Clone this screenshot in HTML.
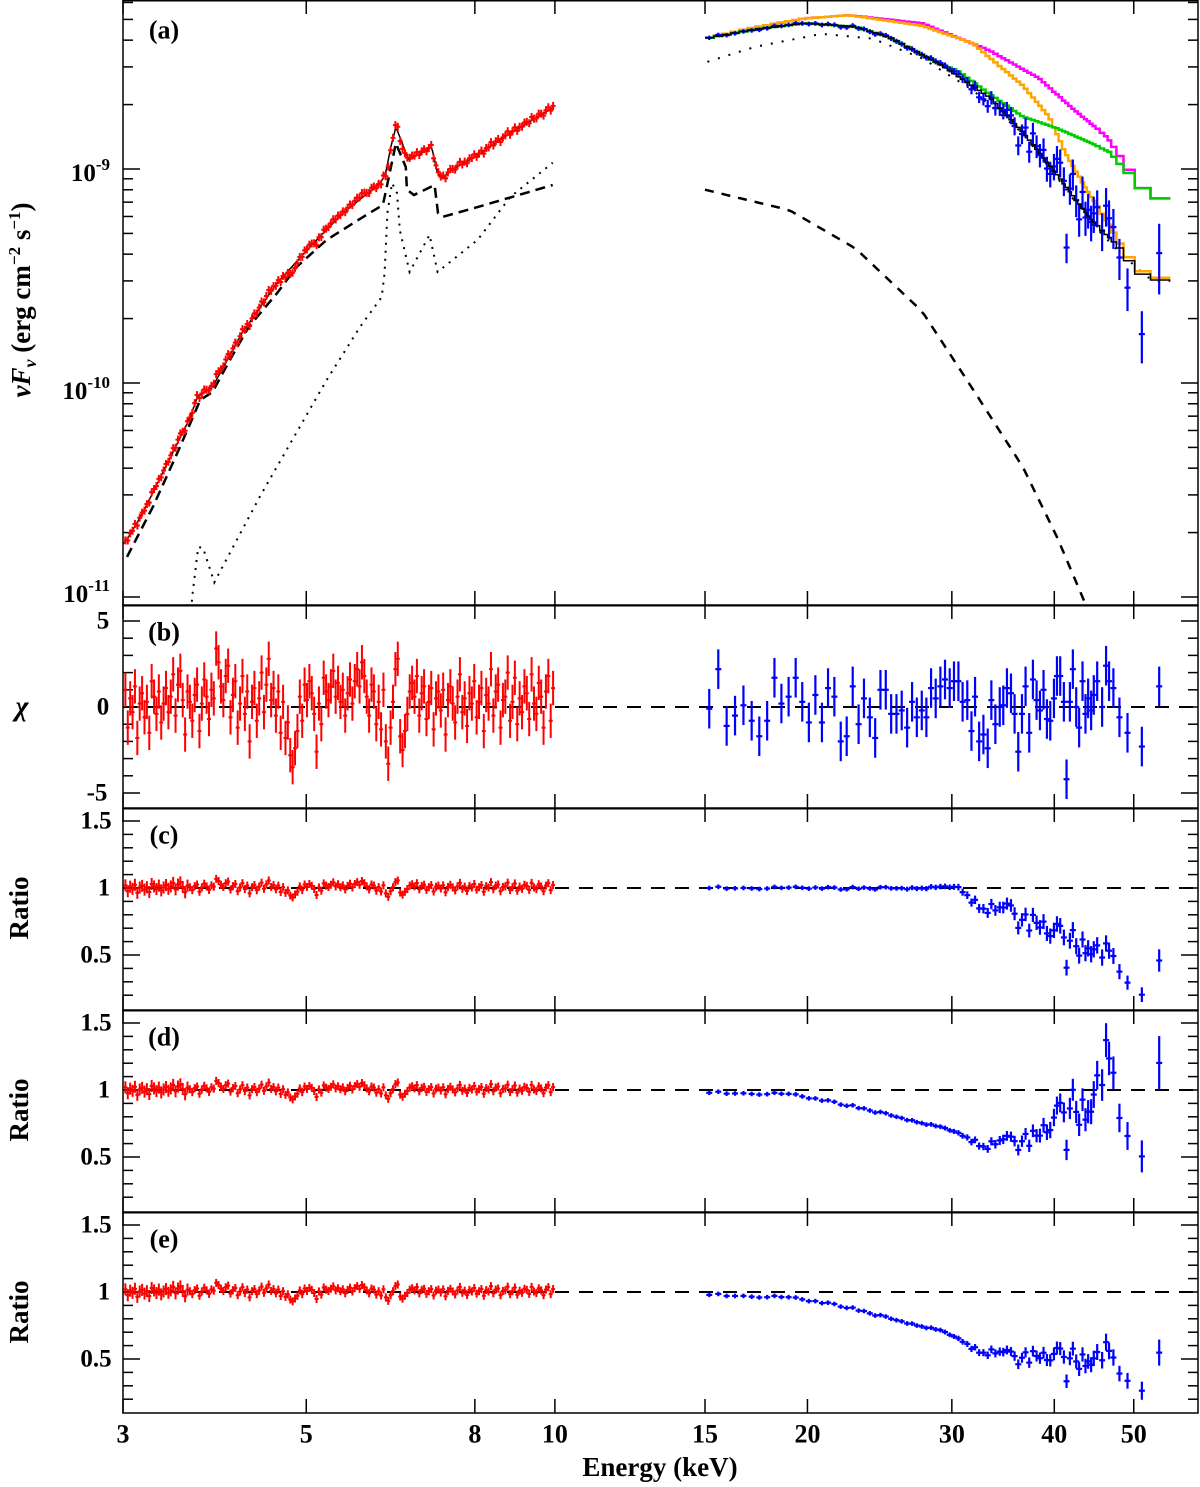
<!DOCTYPE html>
<html><head><meta charset="utf-8"><style>
html,body{margin:0;padding:0;background:#fff;}
svg{display:block;}
text{font-family:"Liberation Serif",serif;font-weight:bold;fill:#000;}
</style></head><body>
<svg id="chart" width="1200" height="1487" viewBox="0 0 1200 1487" xmlns="http://www.w3.org/2000/svg">
<defs><clipPath id="clipA"><rect x="123" y="1" width="1075" height="604"/></clipPath></defs>
<g id="layer"></g>
</svg>
<script>
// ---------- data ----------
const xTickValues=[3,5,8,10,15,20,30,40,50];
const xTickLabels=["3","5","8","10","15","20","30","40","50"];
const redModelE=[3.017,3.17,3.35,3.62,3.69,3.85,4.18,4.61,5.05,5.54,6.15,6.24,6.33,6.42,6.51,6.65,7.00,7.09,7.21,7.31,7.50,8.06,8.83,9.94];
const redModelF=[0.0179,0.0247,0.0380,0.0693,0.0861,0.0958,0.171,0.293,0.432,0.623,0.861,0.958,1.27,1.57,1.37,1.10,1.23,1.27,0.958,0.908,0.99,1.16,1.47,1.93];
const contLeftE=[3.034,3.26,3.49,3.62,3.72,3.85,4.04,4.26,4.61,4.87,5.29,5.86,6.19,6.24,6.42,6.60,6.62,6.75,7.15,7.22,7.31,8.06,9.94];
const contLeftF=[0.0154,0.0263,0.0471,0.065,0.0833,0.0908,0.128,0.183,0.263,0.349,0.466,0.597,0.679,0.781,1.32,1.02,0.80,0.756,0.842,0.623,0.597,0.664,0.842];
const refLeftE=[3.62,3.64,3.70,3.75,3.87,4.00,4.39,4.81,5.29,5.81,6.17,6.22,6.27,6.35,6.44,6.49,6.67,7.05,7.21,8.06,8.83,9.94];
const refLeftF=[0.008,0.0102,0.0171,0.0170,0.0117,0.0149,0.0293,0.0542,0.103,0.183,0.252,0.327,0.623,0.86,0.773,0.519,0.330,0.492,0.330,0.466,0.740,1.07];
const blackRightE=[15,17.3,19.9,22.9,25.2,29.0,33.3,36.6,40.3,44.2,48.1,49.8,52.6,55.4];
const blackRightF=[4.07,4.50,4.80,4.62,4.12,3.09,2.17,1.49,0.94,0.589,0.425,0.343,0.303,0.303];
const orangeE=[15,17.3,19.9,22.5,27.6,31.8,36.6,39.4,41.4,44.2,46.7,48.4,49.8,52.6,55.4];
const orangeF=[4.07,4.60,5.06,5.23,4.67,3.87,2.46,1.76,1.16,0.757,0.546,0.425,0.356,0.31,0.31];
const magentaE=[15,17.3,19.9,22.5,27.6,33.3,38.3,42.1,46.3,48.4,49.8,52.6,55.4];
const magentaF=[4.07,4.60,5.06,5.23,4.80,3.59,2.66,1.92,1.42,1.10,0.905,0.729,0.729];
const greenE=[15,17.3,19.9,22.9,25.2,29.0,30.4,33.3,36.6,40.3,44.2,46.7,48.4,49.8,52.6,55.4];
const greenF=[4.07,4.50,4.80,4.62,4.12,3.09,2.90,2.25,1.76,1.55,1.33,1.20,1.02,0.905,0.729,0.729];
const refRightE=[15.1,17.3,20.8,24.0,27.6,31.8,36.6,40.3,44.2,48.1,52.6,55.4];
const refRightF=[3.17,3.73,4.28,4.07,3.29,2.34,1.47,0.914,0.569,0.406,0.30,0.30];
const contRightE=[15,19.0,22.9,27.6,31.8,36.6,40.3,43.8,46];
const contRightF=[0.80,0.643,0.425,0.216,0.094,0.0406,0.0191,0.009,0.005];
const blueE=[15.18,15.57,15.94,16.32,16.71,17.1,17.47,17.86,18.23,18.59,18.97,19.35,19.71,20.08,20.45,20.83,21.19,21.57,21.96,22.33,22.71,23.09,23.44,23.83,24.19,24.55,24.92,25.3,25.68,26.06,26.46,26.83,27.19,27.57,27.93,28.3,28.67,29.05,29.43,29.82,30.18,30.56,30.92,31.33,31.7,32.02,32.39,32.78,33.18,33.52,33.9,34.32,34.66,35.02,35.42,35.78,36.15,36.53,36.9,37.28,37.67,38.06,38.42,38.81,39.18,39.55,39.96,40.3,40.67,41.09,41.4,41.79,42.14,42.54,42.89,43.3,43.66,43.99,44.36,44.69,45.12,45.75,46.26,46.65,47.22,48.03,49.13,51.15,53.7];
const blueChi=[-0.1,2.2,-1.1,-0.5,0.1,-0.8,-1.7,-0.8,1.7,0.2,0.6,1.7,0.3,-0.9,0.7,-0.9,1.1,0.6,-2.0,-1.7,1.2,-1.0,0.5,-0.6,-1.8,1.0,1.0,-0.4,-0.4,-0.2,-1.2,0.3,-0.6,-0.2,-0.6,1.1,0.5,1.2,1.6,1.1,1.5,1.5,0.3,0.4,-1.4,0.6,-2.0,-1.6,-2.4,0.4,-1.0,0.0,0.1,1.1,0.8,-0.4,-2.6,-0.4,1.2,-1.5,1.6,0.4,-0.2,1.0,-0.7,-0.8,0.5,1.8,1.8,0.3,-4.2,0.3,2.2,0.0,-1.2,1.5,-0.4,0.5,-0.2,0.7,1.5,0.0,2.4,1.5,1.1,-0.6,-1.5,-2.3,1.2];
const blueErrE=[15,25,30,35,40,45,50,54];
const blueRelErr=[0.004,0.006,0.01,0.04,0.07,0.1,0.12,0.2];
const trendCE=[15,29,30.5,32,34,35.5,37,39,41,43,45,47,49,51,54];
const trendCV=[1.0,1.0,0.99,0.9,0.86,0.84,0.75,0.7,0.62,0.55,0.5,0.45,0.36,0.3,0.38];
const trendDE=[15,18.9,22,25,29,32,33,34.7,36.5,38,40,42,44,45,46.3,47.3,48,49,51,54];
const trendDV=[0.98,0.97,0.90,0.82,0.72,0.62,0.6,0.63,0.63,0.64,0.77,0.85,0.8,0.95,1.1,1.0,0.85,0.8,0.74,1.0];
const trendEE=[15,18.9,22,25,29,32,34,36.5,38,40,42,44,46.3,48,49,51,54];
const trendEV=[0.98,0.96,0.90,0.81,0.71,0.58,0.56,0.52,0.51,0.52,0.49,0.46,0.5,0.42,0.41,0.39,0.45];
const redChi=[1,-1.2,0.5,-0.3,1.2,-1.8,0.2,0.8,-0.6,0.3,-1.5,1.5,0.6,-0.4,0.9,-0.9,0.2,1.1,-0.3,0.6,1.9,-0.5,1.3,2.1,0.4,-1.6,0.9,0.3,-0.8,0.7,
1.3,-1.4,0.2,1.6,0.6,-0.7,1.0,0.5,3.4,2.6,1.2,0.4,1.8,2.4,-0.6,0.7,1.5,-1.2,0.2,1.8,-0.4,0.9,-2.0,0.3,1.1,-0.8,0.5,2.0,-0.3,1.3,
2.8,0.4,1.1,-0.5,0.9,-1.5,0.3,-1.8,-0.9,-2.8,-3.5,-2.4,-1.4,0.6,-0.8,1.3,0.4,1.5,0.8,-0.4,-2.6,0.2,-1.0,1.7,0.9,0.4,1.2,2.1,0.6,1.4,
0.3,1.0,-0.5,0.8,1.6,0.2,1.5,2.2,1.2,2.6,1.8,0.6,-0.5,1.3,0.9,-1.0,0.3,-1.3,1.0,-2.0,-3.3,-1.2,0.3,2.2,2.8,-1.7,-2.5,-1.4,-0.4,0.9,
1.4,0.6,1.8,-0.5,0.8,1.2,-0.7,0.3,1.1,-1.3,0.5,0.9,-0.2,1.0,-1.6,0.4,1.2,0.2,-0.9,0.6,1.9,-0.3,0.5,-1.1,0.8,0.2,1.5,-0.6,0.3,1.1,
-1.4,0.7,0.2,2.2,-0.5,0.9,1.3,-1.2,0.4,0.6,2.0,-0.8,0.3,1.7,-1.0,0.5,-0.3,1.2,0.8,-0.7,1.9,0.2,-0.4,1.4,0.6,-1.2,0.9,1.8,-0.8,1.1];
const redEmin=3.02, redEmax=9.95;
const redE=redChi.map((c,i)=>redEmin*Math.pow(redEmax/redEmin,i/(redChi.length-1)));

// ---------- scales ----------
const L=123,R=1198;
function xS(E){return E<=12.5?123+826*Math.log10(E/3):705+820*Math.log10(E/15);}
function yA(f){return 169-214*Math.log10(f);}
function yB(c){return 707-17.2*c;}
const ratioBase=[888,1090,1292];
function yR(k,r){return ratioBase[k]-134*(r-1);}
function interp(xs,ys,x,logy){
  if(x<=xs[0])return ys[0]; if(x>=xs[xs.length-1])return ys[ys.length-1];
  for(let i=1;i<xs.length;i++){ if(x<=xs[i]){const t=(Math.log(x)-Math.log(xs[i-1]))/(Math.log(xs[i])-Math.log(xs[i-1]));
    return logy?Math.exp(Math.log(ys[i-1])+t*(Math.log(ys[i])-Math.log(ys[i-1]))):ys[i-1]+t*(ys[i]-ys[i-1]);}}
}
const NS='http://www.w3.org/2000/svg';
const layer=document.getElementById('layer');
function el(tag,attrs,parent){const e=document.createElementNS(NS,tag);for(const k in attrs)e.setAttribute(k,attrs[k]);(parent||layer).appendChild(e);return e;}
function txt(x,y,s,size,anchor,parent){const t=el('text',{x:x,y:y,'font-size':size,'text-anchor':anchor||'middle','dominant-baseline':'central'},parent);t.textContent=s;return t;}

// ---------- panels frames ----------
const panels=[[0,605],[605,808],[808,1010],[1010,1212],[1212,1413]];
const panelNames=['panel-a-spectrum','panel-b-chi','panel-c-ratio','panel-d-ratio','panel-e-ratio'];
panels.forEach((p,i)=>{
  const g=el('g',{});
  
  
  el('rect',{x:L,y:p[0]+0.75,width:R-L,height:p[1]-p[0]-0.75,fill:'none',stroke:'#000','stroke-width':1.5},g);
  xTickValues.forEach(v=>{const x=xS(v);
    el('line',{x1:x,x2:x,y1:p[0],y2:p[0]+14,stroke:'#000','stroke-width':1.5},g);
    el('line',{x1:x,x2:x,y1:p[1],y2:p[1]-14,stroke:'#000','stroke-width':1.5},g);});
});
const xl=el('g',{});


xTickValues.forEach((v,i)=>txt(xS(v),1434,xTickLabels[i],26,'middle',xl));
const xt=txt(660,1467,'Energy (keV)',27);



// panel a y ticks (both sides)
const ya=el('g',{});


[-2,-1,0].forEach(d=>{for(let m=1;m<10;m++){const y=yA(m*Math.pow(10,d));if(y<2||y>604)continue;
  const len=m===1?17:10;
  el('line',{x1:L,x2:L+len,y1:y,y2:y,stroke:'#000','stroke-width':1.5},ya);
  el('line',{x1:R-len,x2:R,y1:y,y2:y,stroke:'#000','stroke-width':1.5},ya);}});
[['10','-9',172],['10','-10',390],['10','-11',593]].forEach(a=>{
  const t=el('text',{x:110,y:a[2]+9,'font-size':25,'text-anchor':'end'},ya);
  const s1=el('tspan',{},t);s1.textContent=a[0];
  const s2=el('tspan',{'font-size':17,dy:-11},t);s2.textContent=a[1];
});
const yat=el('text',{transform:'translate(30,300) rotate(-90)','font-size':27,'text-anchor':'middle'});


yat.innerHTML='<tspan font-style="italic">νF</tspan><tspan font-style="italic" font-size="18" dy="6">ν</tspan><tspan dy="-6"> (erg cm</tspan><tspan font-size="17" dy="-10">−2</tspan><tspan dy="10"> s</tspan><tspan font-size="17" dy="-10">−1</tspan><tspan dy="10">)</tspan>';

// panel b y ticks
for(let c=-5;c<=5;c++){const y=yB(c);const len=(c%5===0)?17:10;el('line',{x1:L,x2:L+len,y1:y,y2:y,stroke:'#000','stroke-width':1.5});el('line',{x1:R-len,x2:R,y1:y,y2:y,stroke:'#000','stroke-width':1.5});}
txt(103,621,'5',25);txt(103,707,'0',25);txt(97,793,'-5',25);
const chiT=el('text',{x:22,y:707,'font-size':28,'text-anchor':'middle','dominant-baseline':'central','font-style':'italic'});
chiT.textContent='χ';


[0,1,2].forEach(k=>{
  for(let r=0.2;r<=1.6;r+=0.1){const rr=Math.round(r*10)/10;const y=yR(k,rr);const len=(Math.abs(rr*2-Math.round(rr*2))<1e-6)?17:10;
    el('line',{x1:L,x2:L+len,y1:y,y2:y,stroke:'#000','stroke-width':1.5});el('line',{x1:R-len,x2:R,y1:y,y2:y,stroke:'#000','stroke-width':1.5});}
  txt(96,yR(k,1.5),'1.5',25);txt(104,yR(k,1),'1',25);txt(96,yR(k,0.5),'0.5',25);
  const t=el('text',{transform:`translate(28,${ratioBase[k]+20}) rotate(-90)`,'font-size':27,'text-anchor':'middle'});
  t.textContent='Ratio';
  
  
});
[['(a)',30],['(b)',632],['(c)',835],['(d)',1037],['(e)',1239]].forEach(a=>{
  const t=txt(164,a[1],a[0],26);
  
  
});

[yB(0),yR(0,1),yR(1,1),yR(2,1)].forEach(y=>{
  const l=el('line',{x1:L,x2:R,y1:y,y2:y,stroke:'#000','stroke-width':2,'stroke-dasharray':'14,10'});
  
  
});

// ---------- panel a curves ----------
const ga=el('g',{'clip-path':'url(#clipA)'});
function smoothPath(xs,ys,E0,E1,n){let d='';for(let i=0;i<=n;i++){const E=E0*Math.pow(E1/E0,i/n);const f=interp(xs,ys,E,true);d+=(i?'L':'M')+xS(E).toFixed(1)+','+yA(f).toFixed(1);}return d;}
function pathFromArrays(xs,ys){return xs.map((E,i)=>(i?'L':'M')+xS(E).toFixed(1)+','+yA(ys[i]).toFixed(1)).join('');}
const p1=el('path',{d:pathFromArrays(contLeftE,contLeftF),fill:'none',stroke:'#000','stroke-width':2.5,'stroke-dasharray':'10,6'},ga);


const p2=el('path',{d:pathFromArrays(refLeftE,refLeftF),fill:'none',stroke:'#000','stroke-width':2,'stroke-dasharray':'2,6'},ga);


const p3=el('path',{d:smoothPath(contRightE,contRightF,15,46,60),fill:'none',stroke:'#000','stroke-width':2.5,'stroke-dasharray':'9,8'},ga);


const p4=el('path',{d:smoothPath(refRightE,refRightF,15.1,55.4,60),fill:'none',stroke:'#000','stroke-width':2,'stroke-dasharray':'2,9'},ga);


const edges=[15];for(let i=1;i<blueE.length;i++)edges.push(Math.sqrt(blueE[i-1]*blueE[i]));edges.push(55.4);
function stepPath(xs,ys){let d='';for(let i=0;i<blueE.length;i++){const f=interp(xs,ys,blueE[i],true);const y=yA(f).toFixed(1);d+=(i?'L':'M')+xS(edges[i]).toFixed(1)+','+y+'L'+xS(edges[i+1]).toFixed(1)+','+y;}return d;}
[[magentaE,magentaF,'#ff00ff','model-magenta'],[orangeE,orangeF,'#ffa500','model-orange'],[greenE,greenF,'#00cc00','model-green']].forEach(m=>{
  const p=el('path',{d:stepPath(m[0],m[1]),fill:'none',stroke:m[2],'stroke-width':2.5},ga);
  
  
});
const redLine=el('path',{d:smoothPath(redModelE,redModelF,3.0,9.95,300),fill:'none',stroke:'#000','stroke-width':1.5},ga);


const redGA=el('g',{},ga);


redE.forEach((E,i)=>{const m=interp(redModelE,redModelF,E,true);const f=m*(1+redChi[i]*0.02);const x=xS(E),y=yA(f);
  el('line',{x1:x,x2:x,y1:y-4,y2:y+4,stroke:'#ff0000','stroke-width':2},redGA);
  el('line',{x1:x-2.5,x2:x+2.5,y1:y,y2:y,stroke:'#ff0000','stroke-width':2},redGA);});
const blueGA=el('g',{},ga);


blueE.forEach((E,i)=>{const m=interp(blackRightE,blackRightF,E,true);const re=interp(blueErrE,blueRelErr,E,false)*1.8;
  const f=m*(1+blueChi[i]*re*0.8);const x=xS(E),y=yA(f);const y1=yA(f*(1+re)),y2=yA(f*(1-re));
  el('line',{x1:x,x2:x,y1:y1-1.5,y2:y2+1.5,stroke:'#0000ff','stroke-width':2.2},blueGA);
  el('line',{x1:x-3,x2:x+3,y1:y,y2:y,stroke:'#0000ff','stroke-width':2.2},blueGA);});
const blackStep=el('path',{d:stepPath(blackRightE,blackRightF),fill:'none',stroke:'#000','stroke-width':1.5},ga);



// ---------- panel b ----------
const gb=el('g',{});


redE.forEach((E,i)=>{const x=xS(E),y=yB(redChi[i]);
  el('line',{x1:x,x2:x,y1:yB(redChi[i]+1),y2:yB(redChi[i]-1),stroke:'#ff0000','stroke-width':2},gb);
  el('line',{x1:x-2,x2:x+2,y1:y,y2:y,stroke:'#ff0000','stroke-width':2},gb);});
blueE.forEach((E,i)=>{const x=xS(E),y=yB(blueChi[i]);
  el('line',{x1:x,x2:x,y1:yB(blueChi[i]+1.15),y2:yB(blueChi[i]-1.15),stroke:'#0000ff','stroke-width':2.2},gb);
  el('line',{x1:x-3,x2:x+3,y1:y,y2:y,stroke:'#0000ff','stroke-width':2.2},gb);});

// ---------- ratio panels ----------
const trends=[[trendCE,trendCV],[trendDE,trendDV],[trendEE,trendEV]];
[0,1,2].forEach(k=>{
  const g=el('g',{});
  
  
  redE.forEach((E,i)=>{const r=1+redChi[i]*0.02;const x=xS(E),y=yR(k,r);const e=E<3.6?0.045:0.03;
    el('line',{x1:x,x2:x,y1:yR(k,r+e),y2:yR(k,r-e),stroke:'#ff0000','stroke-width':2},g);
    el('line',{x1:x-2,x2:x+2,y1:y,y2:y,stroke:'#ff0000','stroke-width':2},g);});
  blueE.forEach((E,i)=>{const t=interp(trends[k][0],trends[k][1],E,false);const re=interp(blueErrE,blueRelErr,E,false);
    const r=t*(1+blueChi[i]*re);const e=Math.max(t*re,0.006);const x=xS(E),y=yR(k,r);
    el('line',{x1:x,x2:x,y1:yR(k,r+e)-1.5,y2:yR(k,r-e)+1.5,stroke:'#0000ff','stroke-width':2.2},g);
    el('line',{x1:x-3,x2:x+3,y1:y,y2:y,stroke:'#0000ff','stroke-width':2.2},g);});
});
</script>
</body></html>
